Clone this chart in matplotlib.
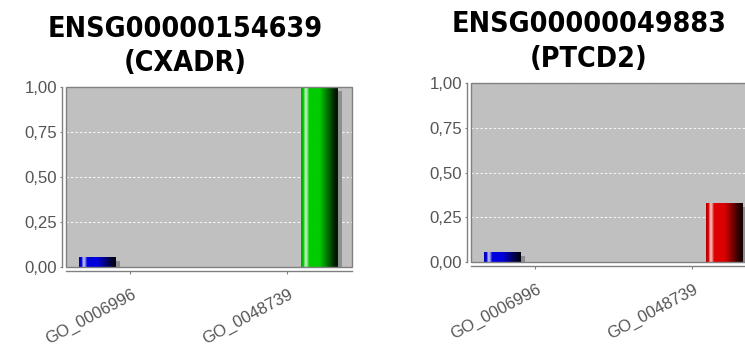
import numpy as np
import matplotlib
matplotlib.use("Agg")
import matplotlib.pyplot as plt
from matplotlib.patches import Rectangle
from matplotlib.colors import LinearSegmentedColormap, to_rgb
import matplotlib.transforms as mtransforms

# ---- data ----
categories = ["GO_0006996", "GO_0048739"]
left_title = "ENSG00000154639\n(CXADR)"
right_title = "ENSG00000049883\n(PTCD2)"
left_series0 = [0.055, 0.0]
left_series1 = [0.0, 1.0]
right_series0 = [0.055, 0.0]
right_series1 = [0.0, 0.33]
yticks = [0.0, 0.25, 0.5, 0.75, 1.0]
ytick_labels = ["0,00", "0,25", "0,50", "0,75", "1,00"]

# ---- styles ----
BG = "#c0c0c0"
AXC = "#808080"
TXT = "#555555"
SHADOW = "#8e8e8e"
blue = "#0000dd"
green = "#00cc00"
red = "#dd0000"
FONT = "Liberation Sans"

W, H = 745, 347
fig = plt.figure(figsize=(W / 100, H / 100), dpi=100)


def px_axes(x0, y_top, w, h):
    return fig.add_axes([x0 / W, (H - y_top - h) / H, w / W, h / H])


def gradient_fill(ax, bar, color):
    c = np.array(to_rgb(color))
    white = np.ones(3)
    light = c + (white - c) * 0.7
    dark = c * 0.12
    stops = [(0.0, c * 0.8), (0.07, c), (0.11, light), (0.15, light),
             (0.22, c), (0.5, c), (0.93, dark), (1.0, dark)]
    cmap = LinearSegmentedColormap.from_list("g", stops)
    grad = np.linspace(0, 1, 256).reshape(1, -1)
    x0, w, h = bar.get_x(), bar.get_width(), bar.get_height()
    if h <= 0:
        return
    im = ax.imshow(grad, cmap=cmap, extent=[x0, x0 + w, 0, h], aspect="auto",
                   interpolation="bilinear", zorder=3)
    im.set_clip_path(bar)


def make_chart(ax, s0, s1, c0, c1):
    # spines first (set_position resets the ticks)
    for s in ("top", "right"):
        ax.spines[s].set_visible(False)
    for s in ("left", "bottom"):
        ax.spines[s].set_color(AXC)
        ax.spines[s].set_linewidth(1.0)
        ax.spines[s].set_position(("outward", 3.2))

    x = np.arange(len(categories))
    off = 0.207
    bw = 0.23
    shadow_tr = ax.transData + mtransforms.ScaledTranslation(4 / 100, -4 / 100, fig.dpi_scale_trans)
    for vals, o in ((s0, -off), (s1, off)):
        sb = ax.bar(x + o, vals, bw, color=SHADOW, zorder=2, linewidth=0)
        for p in sb:
            p.set_transform(shadow_tr)
    b0 = ax.bar(x - off, s0, bw, color=c0, zorder=3, linewidth=0)
    b1 = ax.bar(x + off, s1, bw, color=c1, zorder=3, linewidth=0)
    for p in b0:
        gradient_fill(ax, p, c0)
    for p in b1:
        gradient_fill(ax, p, c1)

    ax.set_xlim(-0.408, 1.414)
    ax.set_ylim(0, 1)
    ax.set_facecolor(BG)
    ax.set_axisbelow(True)
    ax.tick_params(axis="y", length=1.6, width=0.8, color=AXC, pad=1.5)
    ax.tick_params(axis="x", length=2.5, width=0.8, color=AXC, pad=8.5)
    ax.set_yticks(yticks)
    ax.set_yticklabels(ytick_labels, fontfamily=FONT, fontsize=12.1, color=TXT)
    ax.set_xticks(x)
    ax.set_xticklabels(categories, fontfamily=FONT, fontsize=12.0, color=TXT,
                       rotation=28, ha="right", va="top", rotation_mode="anchor")
    shift = mtransforms.ScaledTranslation(1 / 100, 0, fig.dpi_scale_trans)
    for lab in ax.get_xticklabels():
        lab.set_transform(lab.get_transform() + shift)
    ax.yaxis.grid(True, color="#f4f4f4", linestyle=(0, (2.2, 1.8)), linewidth=0.8)
    ax.xaxis.grid(False)
    ax.add_patch(Rectangle((0, 0), 1, 1, transform=ax.transAxes, fill=False,
                           edgecolor=AXC, linewidth=1.0, zorder=5, clip_on=False))


ax1 = px_axes(66, 87, 286, 180)
make_chart(ax1, left_series0, left_series1, blue, green)
ax2 = px_axes(471, 83, 286, 179)
make_chart(ax2, right_series0, right_series1, blue, red)

fig.text(185 / W, 1 - 15 / H, left_title, ha="center", va="top", family="DejaVu Sans",
         fontstretch="condensed", fontweight="bold", fontsize=20.5, color="black",
         linespacing=1.25)
fig.text(589 / W, 1 - 10 / H, right_title, ha="center", va="top", family="DejaVu Sans",
         fontstretch="condensed", fontweight="bold", fontsize=20.5, color="black",
         linespacing=1.3)

fig.savefig("out.png", dpi=100, facecolor="white")
